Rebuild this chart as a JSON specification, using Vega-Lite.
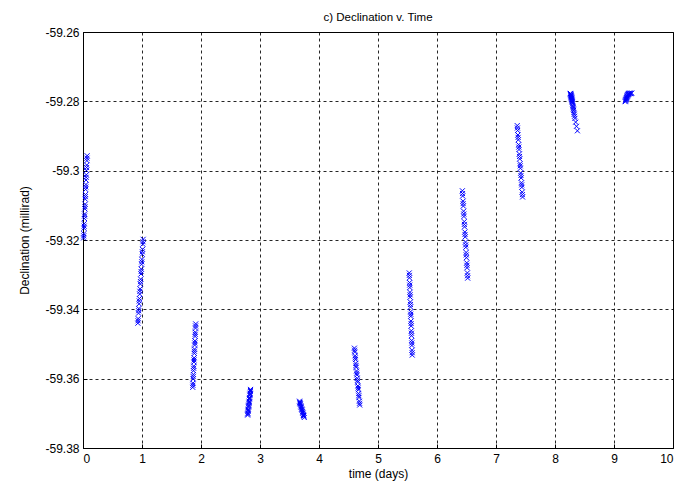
{
  "$schema": "https://vega.github.io/schema/vega-lite/v6.json",
  "width": 590,
  "height": 416,
  "autosize": {"type": "none"},
  "padding": {"left": 83, "top": 32, "right": 6, "bottom": 46},
  "background": "white",
  "title": {
    "text": "c) Declination v. Time",
    "font": "Liberation Sans",
    "fontSize": 11.5,
    "fontWeight": "normal",
    "color": "black",
    "offset": 3
  },
  "config": {
    "view": {"stroke": "black", "strokeWidth": 1},
    "axis": {
      "grid": true,
      "gridColor": "black",
      "gridDash": [3, 3],
      "gridWidth": 1,
      "gridOpacity": 0.85,
      "domain": false,
      "ticks": true,
      "tickColor": "black",
      "tickSize": -4,
      "labelPadding": 8,
      "labelFont": "Liberation Sans",
      "labelFontSize": 12,
      "labelColor": "black",
      "titleFont": "Liberation Sans",
      "titleFontSize": 12,
      "titleFontWeight": "normal",
      "titleColor": "black"
    }
  },
  "data": {
    "values": [
      {"t": 0.010, "dec": -59.3194}, {"t": 0.012, "dec": -59.3188}, {"t": 0.014, "dec": -59.3182}, {"t": 0.017, "dec": -59.3166},
      {"t": 0.019, "dec": -59.3160}, {"t": 0.021, "dec": -59.3153}, {"t": 0.024, "dec": -59.3138}, {"t": 0.026, "dec": -59.3131},
      {"t": 0.028, "dec": -59.3125}, {"t": 0.031, "dec": -59.3110}, {"t": 0.033, "dec": -59.3104}, {"t": 0.035, "dec": -59.3097},
      {"t": 0.038, "dec": -59.3082}, {"t": 0.040, "dec": -59.3075}, {"t": 0.042, "dec": -59.3069}, {"t": 0.045, "dec": -59.3054},
      {"t": 0.047, "dec": -59.3047}, {"t": 0.049, "dec": -59.3040}, {"t": 0.052, "dec": -59.3027}, {"t": 0.054, "dec": -59.3019},
      {"t": 0.056, "dec": -59.3012}, {"t": 0.059, "dec": -59.2999}, {"t": 0.061, "dec": -59.2991}, {"t": 0.063, "dec": -59.2984},
      {"t": 0.066, "dec": -59.2971}, {"t": 0.068, "dec": -59.2964}, {"t": 0.070, "dec": -59.2957},

      {"t": 0.930, "dec": -59.3440}, {"t": 0.933, "dec": -59.3433}, {"t": 0.935, "dec": -59.3427}, {"t": 0.941, "dec": -59.3411},
      {"t": 0.943, "dec": -59.3404}, {"t": 0.946, "dec": -59.3398}, {"t": 0.951, "dec": -59.3384}, {"t": 0.954, "dec": -59.3376},
      {"t": 0.956, "dec": -59.3369}, {"t": 0.962, "dec": -59.3356}, {"t": 0.964, "dec": -59.3348}, {"t": 0.967, "dec": -59.3341},
      {"t": 0.972, "dec": -59.3327}, {"t": 0.975, "dec": -59.3320}, {"t": 0.977, "dec": -59.3313}, {"t": 0.983, "dec": -59.3298},
      {"t": 0.985, "dec": -59.3291}, {"t": 0.988, "dec": -59.3284}, {"t": 0.993, "dec": -59.3270}, {"t": 0.996, "dec": -59.3263},
      {"t": 0.998, "dec": -59.3256}, {"t": 1.004, "dec": -59.3241}, {"t": 1.006, "dec": -59.3234}, {"t": 1.009, "dec": -59.3227},
      {"t": 1.014, "dec": -59.3212}, {"t": 1.017, "dec": -59.3205}, {"t": 1.020, "dec": -59.3198},

      {"t": 1.860, "dec": -59.3625}, {"t": 1.862, "dec": -59.3619}, {"t": 1.863, "dec": -59.3613}, {"t": 1.867, "dec": -59.3601},
      {"t": 1.868, "dec": -59.3594}, {"t": 1.870, "dec": -59.3588}, {"t": 1.873, "dec": -59.3577}, {"t": 1.875, "dec": -59.3570},
      {"t": 1.877, "dec": -59.3564}, {"t": 1.880, "dec": -59.3552}, {"t": 1.882, "dec": -59.3546}, {"t": 1.883, "dec": -59.3540},
      {"t": 1.887, "dec": -59.3527}, {"t": 1.888, "dec": -59.3521}, {"t": 1.890, "dec": -59.3515}, {"t": 1.893, "dec": -59.3503},
      {"t": 1.895, "dec": -59.3497}, {"t": 1.897, "dec": -59.3491}, {"t": 1.900, "dec": -59.3478}, {"t": 1.902, "dec": -59.3472},
      {"t": 1.903, "dec": -59.3466}, {"t": 1.907, "dec": -59.3454}, {"t": 1.908, "dec": -59.3448}, {"t": 1.910, "dec": -59.3442},

      {"t": 2.790, "dec": -59.3705}, {"t": 2.792, "dec": -59.3702}, {"t": 2.794, "dec": -59.3699}, {"t": 2.798, "dec": -59.3694},
      {"t": 2.800, "dec": -59.3691}, {"t": 2.802, "dec": -59.3688}, {"t": 2.805, "dec": -59.3682}, {"t": 2.807, "dec": -59.3679},
      {"t": 2.809, "dec": -59.3676}, {"t": 2.813, "dec": -59.3671}, {"t": 2.815, "dec": -59.3668}, {"t": 2.817, "dec": -59.3665},
      {"t": 2.821, "dec": -59.3659}, {"t": 2.823, "dec": -59.3657}, {"t": 2.825, "dec": -59.3654}, {"t": 2.828, "dec": -59.3648},
      {"t": 2.830, "dec": -59.3645}, {"t": 2.832, "dec": -59.3642}, {"t": 2.836, "dec": -59.3637}, {"t": 2.838, "dec": -59.3634},
      {"t": 2.840, "dec": -59.3631},

      {"t": 3.670, "dec": -59.3665}, {"t": 3.674, "dec": -59.3668}, {"t": 3.677, "dec": -59.3670}, {"t": 3.681, "dec": -59.3672},
      {"t": 3.685, "dec": -59.3674}, {"t": 3.692, "dec": -59.3678}, {"t": 3.696, "dec": -59.3681}, {"t": 3.699, "dec": -59.3683},
      {"t": 3.706, "dec": -59.3687}, {"t": 3.710, "dec": -59.3689}, {"t": 3.714, "dec": -59.3691}, {"t": 3.721, "dec": -59.3695},
      {"t": 3.725, "dec": -59.3698}, {"t": 3.728, "dec": -59.3700}, {"t": 3.735, "dec": -59.3704}, {"t": 3.739, "dec": -59.3706},
      {"t": 3.743, "dec": -59.3708}, {"t": 3.750, "dec": -59.3712},

      {"t": 4.600, "dec": -59.3512}, {"t": 4.603, "dec": -59.3518}, {"t": 4.606, "dec": -59.3523}, {"t": 4.612, "dec": -59.3534},
      {"t": 4.615, "dec": -59.3540}, {"t": 4.618, "dec": -59.3545}, {"t": 4.624, "dec": -59.3556}, {"t": 4.627, "dec": -59.3562},
      {"t": 4.630, "dec": -59.3567}, {"t": 4.636, "dec": -59.3578}, {"t": 4.639, "dec": -59.3584}, {"t": 4.642, "dec": -59.3589},
      {"t": 4.648, "dec": -59.3599}, {"t": 4.651, "dec": -59.3605}, {"t": 4.654, "dec": -59.3610}, {"t": 4.660, "dec": -59.3621},
      {"t": 4.663, "dec": -59.3627}, {"t": 4.666, "dec": -59.3632}, {"t": 4.672, "dec": -59.3643}, {"t": 4.675, "dec": -59.3649},
      {"t": 4.678, "dec": -59.3654}, {"t": 4.684, "dec": -59.3665}, {"t": 4.687, "dec": -59.3671}, {"t": 4.690, "dec": -59.3676},

      {"t": 5.530, "dec": -59.3295}, {"t": 5.532, "dec": -59.3302}, {"t": 5.533, "dec": -59.3309}, {"t": 5.536, "dec": -59.3323},
      {"t": 5.538, "dec": -59.3330}, {"t": 5.539, "dec": -59.3337}, {"t": 5.542, "dec": -59.3351}, {"t": 5.544, "dec": -59.3358},
      {"t": 5.545, "dec": -59.3365}, {"t": 5.548, "dec": -59.3379}, {"t": 5.550, "dec": -59.3386}, {"t": 5.551, "dec": -59.3393},
      {"t": 5.553, "dec": -59.3407}, {"t": 5.555, "dec": -59.3414}, {"t": 5.556, "dec": -59.3420}, {"t": 5.559, "dec": -59.3434},
      {"t": 5.561, "dec": -59.3441}, {"t": 5.562, "dec": -59.3448}, {"t": 5.565, "dec": -59.3462}, {"t": 5.567, "dec": -59.3469},
      {"t": 5.568, "dec": -59.3476}, {"t": 5.571, "dec": -59.3490}, {"t": 5.573, "dec": -59.3497}, {"t": 5.574, "dec": -59.3504},
      {"t": 5.577, "dec": -59.3518}, {"t": 5.579, "dec": -59.3525}, {"t": 5.580, "dec": -59.3532},

      {"t": 6.430, "dec": -59.3058}, {"t": 6.433, "dec": -59.3066}, {"t": 6.435, "dec": -59.3073}, {"t": 6.441, "dec": -59.3088},
      {"t": 6.443, "dec": -59.3095}, {"t": 6.446, "dec": -59.3102}, {"t": 6.451, "dec": -59.3117}, {"t": 6.454, "dec": -59.3125},
      {"t": 6.456, "dec": -59.3132}, {"t": 6.462, "dec": -59.3147}, {"t": 6.464, "dec": -59.3155}, {"t": 6.467, "dec": -59.3162},
      {"t": 6.472, "dec": -59.3177}, {"t": 6.475, "dec": -59.3184}, {"t": 6.478, "dec": -59.3191}, {"t": 6.483, "dec": -59.3206},
      {"t": 6.486, "dec": -59.3214}, {"t": 6.488, "dec": -59.3221}, {"t": 6.494, "dec": -59.3236}, {"t": 6.496, "dec": -59.3243},
      {"t": 6.499, "dec": -59.3251}, {"t": 6.504, "dec": -59.3266}, {"t": 6.507, "dec": -59.3273}, {"t": 6.509, "dec": -59.3280},
      {"t": 6.515, "dec": -59.3295}, {"t": 6.517, "dec": -59.3303}, {"t": 6.520, "dec": -59.3310},

      {"t": 7.360, "dec": -59.2870}, {"t": 7.363, "dec": -59.2877}, {"t": 7.366, "dec": -59.2884}, {"t": 7.372, "dec": -59.2897},
      {"t": 7.375, "dec": -59.2904}, {"t": 7.378, "dec": -59.2911}, {"t": 7.384, "dec": -59.2925}, {"t": 7.387, "dec": -59.2932},
      {"t": 7.390, "dec": -59.2939}, {"t": 7.396, "dec": -59.2952}, {"t": 7.399, "dec": -59.2959}, {"t": 7.402, "dec": -59.2966},
      {"t": 7.408, "dec": -59.2980}, {"t": 7.411, "dec": -59.2986}, {"t": 7.414, "dec": -59.2993}, {"t": 7.420, "dec": -59.3007},
      {"t": 7.423, "dec": -59.3014}, {"t": 7.426, "dec": -59.3021}, {"t": 7.432, "dec": -59.3035}, {"t": 7.435, "dec": -59.3041},
      {"t": 7.438, "dec": -59.3048}, {"t": 7.444, "dec": -59.3062}, {"t": 7.447, "dec": -59.3069}, {"t": 7.450, "dec": -59.3076},

      {"t": 8.260, "dec": -59.2777}, {"t": 8.262, "dec": -59.2778}, {"t": 8.265, "dec": -59.2779}, {"t": 8.267, "dec": -59.2781},
      {"t": 8.270, "dec": -59.2782}, {"t": 8.272, "dec": -59.2784}, {"t": 8.274, "dec": -59.2785}, {"t": 8.276, "dec": -59.2787},
      {"t": 8.278, "dec": -59.2788}, {"t": 8.280, "dec": -59.2790}, {"t": 8.282, "dec": -59.2791}, {"t": 8.284, "dec": -59.2793},
      {"t": 8.286, "dec": -59.2795}, {"t": 8.288, "dec": -59.2797}, {"t": 8.290, "dec": -59.2799}, {"t": 8.292, "dec": -59.2801},
      {"t": 8.294, "dec": -59.2803}, {"t": 8.298, "dec": -59.2807}, {"t": 8.302, "dec": -59.2812}, {"t": 8.305, "dec": -59.2815},
      {"t": 8.308, "dec": -59.2818}, {"t": 8.312, "dec": -59.2822}, {"t": 8.316, "dec": -59.2826}, {"t": 8.321, "dec": -59.2832},
      {"t": 8.326, "dec": -59.2837}, {"t": 8.332, "dec": -59.2843}, {"t": 8.338, "dec": -59.2849}, {"t": 8.350, "dec": -59.2860},
      {"t": 8.364, "dec": -59.2872}, {"t": 8.380, "dec": -59.2885},

      {"t": 9.190, "dec": -59.2801}, {"t": 9.194, "dec": -59.2799}, {"t": 9.198, "dec": -59.2797}, {"t": 9.202, "dec": -59.2795},
      {"t": 9.205, "dec": -59.2794}, {"t": 9.209, "dec": -59.2792}, {"t": 9.212, "dec": -59.2790}, {"t": 9.216, "dec": -59.2789},
      {"t": 9.220, "dec": -59.2787}, {"t": 9.224, "dec": -59.2785}, {"t": 9.228, "dec": -59.2784}, {"t": 9.232, "dec": -59.2782},
      {"t": 9.236, "dec": -59.2781}, {"t": 9.240, "dec": -59.2780}, {"t": 9.245, "dec": -59.2779}, {"t": 9.250, "dec": -59.2778},
      {"t": 9.255, "dec": -59.2777}, {"t": 9.265, "dec": -59.2776}, {"t": 9.280, "dec": -59.2778}, {"t": 9.290, "dec": -59.2777},
      {"t": 9.300, "dec": -59.2776}
    ]
  },
  "mark": {
    "type": "point",
    "shape": "M-1,-1L1,1M-1,1L1,-1",
    "filled": false,
    "stroke": "#0000ff",
    "strokeWidth": 1,
    "size": 25,
    "opacity": 1
  },
  "encoding": {
    "x": {
      "field": "t",
      "type": "quantitative",
      "scale": {"domain": [0, 10], "nice": false, "zero": false},
      "axis": {
        "values": [0, 1, 2, 3, 4, 5, 6, 7, 8, 9, 10],
        "format": "d",
        "labelPadding": 9,
        "title": "time (days)",
        "titlePadding": 4
      }
    },
    "y": {
      "field": "dec",
      "type": "quantitative",
      "scale": {"domain": [-59.38, -59.26], "nice": false, "zero": false},
      "axis": {
        "values": [-59.38, -59.36, -59.34, -59.32, -59.3, -59.28, -59.26],
        "format": ".2~f",
        "labelExpr": "replace(datum.label, '\u2212', '-')",
        "title": "Declination (millirad)",
        "titlePadding": 13
      }
    }
  }
}
